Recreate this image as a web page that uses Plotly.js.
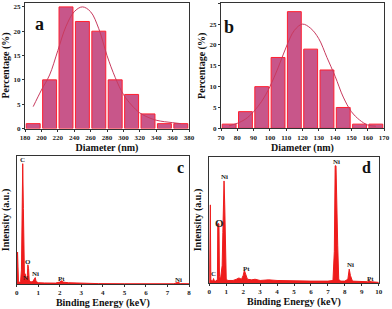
<!DOCTYPE html>
<html><head><meta charset="utf-8">
<script src="https://cdn.plot.ly/plotly-3.0.1.min.js"></script>
<style>html,body{margin:0;padding:0;background:#fff}#chart{width:392px;height:309px}</style>
</head><body><div id="chart"></div>
<script>
// ---- Panel a: size distribution ----
const diamA = [190,210,230,250,270,290,310,330,350,370];
const pctA  = [1,10,25,22,20,10,7,3,1,1];
const fitAx = [190,200,210,220,230,240,250,260,270,280,290,300,310,320,330,340,350,360,370];
const fitAy = [4.5,7.9,11,16,21,24,25,24,20.5,15,10.5,7,4.8,3.2,2.3,1.7,1.4,1.2,1.0];
// ---- Panel b: size distribution ----
const diamB = [75,85,95,105,115,125,135,145,155,165];
const pctB  = [1,4,10,17,28,19,14,5,1,1];
const fitBx = [75,80,85,90,95,100,105,110,115,120,125,130,135,140,145,150,155,160,165];
const fitBy = [0.6,1.2,2.2,4,6.5,10,14.5,19.5,23.5,25,24,21.5,17,12.5,7.5,4,2,0.8,0.5];
// ---- Panel c: EDS spectrum ----
const eC = [0,0.02,0.04,0.06,0.08,0.12,0.18,0.22,0.25,0.28,0.31,0.33,0.36,0.39,0.42,0.45,0.49,0.52,0.55,0.58,0.65,0.75,0.82,0.86,0.9,1.0,1.3,1.6,1.8,2.0,2.08,2.15,2.4,2.8,3.2,3.5,3.8,5,6,7.3,7.45,7.5,7.6,8];
const iC = [0,25,25,14,3,1,2,11,60,94,59,30,6,8,4,3,6,15,12,3,1.5,2,4,5,2,1,0.8,1,0.7,1.5,2.5,1.5,1,0.8,0.8,0.6,0.3,0.2,0.2,0.2,1.2,1.3,0.3,0.2];
const labC = ["C","N","O","Ni","Pt","Ni"];
const labCx = [0.26,0.43,0.54,0.85,2.08,7.49];
const labCy = [97,5,17,8,4,3];
// ---- Panel d: EDS spectrum ----
const eD = [0,0.03,0.06,0.09,0.12,0.2,0.25,0.3,0.4,0.48,0.5,0.57,0.6,0.66,0.72,0.76,0.8,0.83,0.87,0.91,0.96,1.0,1.1,1.4,1.6,1.75,1.9,2.0,2.07,2.14,2.25,2.5,2.7,3.0,3.5,4.0,5.0,6.0,7.0,7.3,7.38,7.43,7.48,7.53,7.58,7.64,7.75,8.0,8.18,8.26,8.33,8.45,9.0,9.35,9.45,9.55,10];
const iD = [0,62,62,3,2,1.5,3.5,1.5,1.5,3,47,47,5,3,14,14,40,81,81,62,20,3,2,2,3,4,3,6,10,7,3,2.5,3,2,2.5,2,1.5,1.5,1.5,2,25,93,93,48,30,3,1.5,1.5,3,11,6,1.5,1,1,2,1,0.5];
const labD = ["C","O","Ni","Pt","Ni","Ni","Pt"];
const labDx = [0.24,0.63,0.89,2.17,7.48,8.31,9.49];
const labDy = [7.4,48,84,11.4,96,14.5,3.4];

const FAM = "Liberation Serif, Times New Roman, serif";
const P = x => x/392, Q = y => 1 - y/309;
const barFill = "#c8568a", barLine = "#ff1f2f", fitCol = "#c83a5e", specCol = "#ee1c1c";

const traces = [
  {type:"bar", x:diamA, y:pctA, width:17, marker:{color:barFill, line:{color:barLine, width:1}}, xaxis:"x", yaxis:"y", hoverinfo:"x+y"},
  {type:"scatter", mode:"lines", x:fitAx, y:fitAy, line:{color:fitCol, width:1, shape:"spline"}, xaxis:"x", yaxis:"y"},
  {type:"bar", x:diamB, y:pctB, width:8.5, marker:{color:barFill, line:{color:barLine, width:1}}, xaxis:"x2", yaxis:"y2"},
  {type:"scatter", mode:"lines", x:fitBx, y:fitBy, line:{color:fitCol, width:1, shape:"spline"}, xaxis:"x2", yaxis:"y2"},
  {type:"scatter", mode:"lines", x:eC, y:iC, fill:"tozeroy", fillcolor:specCol, line:{color:specCol, width:1}, xaxis:"x3", yaxis:"y3"},
  {type:"scatter", mode:"lines", x:eD, y:iD, fill:"tozeroy", fillcolor:specCol, line:{color:specCol, width:1}, xaxis:"x4", yaxis:"y4"}
];

const tickF = {family:FAM, size:7, color:"#222", weight:"bold"};
const titleF = {family:FAM, size:10, color:"#111", weight:"bold"};
function ax(extra){
  return Object.assign({showline:true, linecolor:"#333", linewidth:1, mirror:true, ticks:"outside", ticklen:2, tickcolor:"#333",
    showgrid:false, zeroline:false, tickfont:tickF, automargin:false}, extra);
}

const annots = [
  {text:"a", x:P(33), y:Q(12), xref:"paper", yref:"paper", showarrow:false, font:{family:FAM, size:18, weight:"bold", color:"#111"}},
  {text:"b", x:P(229), y:Q(15), xref:"paper", yref:"paper", showarrow:false, font:{family:FAM, size:18, weight:"bold", color:"#111"}},
  {text:"c", x:P(180), y:Q(167), xref:"paper", yref:"paper", showarrow:false, font:{family:FAM, size:16, weight:"bold", color:"#111"}},
  {text:"d", x:P(373), y:Q(167), xref:"paper", yref:"paper", showarrow:false, font:{family:FAM, size:16, weight:"bold", color:"#111"}}
];
labC.forEach((t,i)=>annots.push({text:t, x:labCx[i], y:labCy[i], xref:"x3", yref:"y3", showarrow:false, font:{family:FAM, size:7, weight:"bold", color:"#222"}}));
labD.forEach((t,i)=>annots.push({text:t, x:labDx[i], y:labDy[i], xref:"x4", yref:"y4", showarrow:false, font:{family:FAM, size:(t==="O"?11:7), weight:"bold", color:"#222"}}));

const layout = {
  width:392, height:309, margin:{l:0,r:0,t:0,b:0}, paper_bgcolor:"#fff", plot_bgcolor:"#fff", showlegend:false, bargap:0,
  xaxis: ax({domain:[P(25),P(189)], range:[180,380], tick0:180, dtick:20, anchor:"y", title:{text:"Diameter (nm)", font:titleF, standoff:2}}),
  yaxis: ax({domain:[Q(128.5),Q(2.5)], range:[0,25.9], dtick:5, anchor:"x", title:{text:"Percentage (%)", font:titleF, standoff:2}}),
  xaxis2: ax({domain:[P(221),P(384)], range:[70,170], tick0:70, dtick:10, anchor:"y2", title:{text:"Diameter (nm)", font:titleF, standoff:2}}),
  yaxis2: ax({domain:[Q(128.3),Q(3.3)], range:[0,30], dtick:5, anchor:"x2", title:{text:"Percentage (%)", font:titleF, standoff:2}}),
  xaxis3: ax({domain:[P(16.7),P(189)], range:[0,8], dtick:1, anchor:"y3", title:{text:"Binding Energy (keV)", font:titleF, standoff:2}}),
  yaxis3: ax({domain:[Q(284),Q(156)], range:[0,100], showticklabels:false, ticks:"", anchor:"x3", title:{text:"Intensity (a.u.)", font:titleF, standoff:4}}),
  xaxis4: ax({domain:[P(209.3),P(378.7)], range:[0,10], dtick:1, anchor:"y4", title:{text:"Binding Energy (keV)", font:titleF, standoff:2}}),
  yaxis4: ax({domain:[Q(283),Q(157)], range:[0,100], showticklabels:false, ticks:"", anchor:"x4", title:{text:"Intensity (a.u.)", font:titleF, standoff:4}}),
  annotations: annots
};
Plotly.newPlot("chart", traces, layout, {staticPlot:true, displayModeBar:false});
</script></body></html>
